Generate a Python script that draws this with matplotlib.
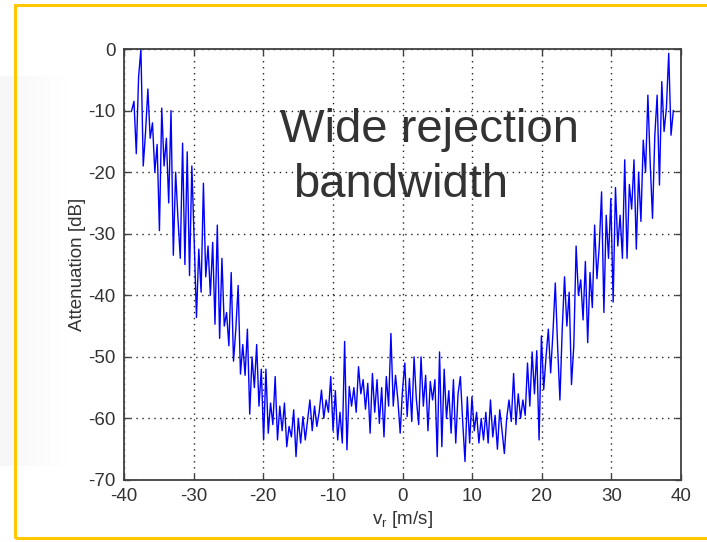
import numpy as np
import matplotlib
matplotlib.use("Agg")
import matplotlib.pyplot as plt
from matplotlib.patches import Rectangle

# radial velocity span of the measured filter response
v_start, v_end = -38.9, 38.9

# attenuation [dB] left to right (about 1/3 m/s apart)
atten = [
    -10, -8.5, -17, -4.5, 0, -19, -13.5, -6.5, -14.5, -12, -20, -15.5,
    -29.5, -9.6, -19, -14.5, -25, -10, -33.5, -20, -27.5, -34, -15.3, -35,
    -16.7, -36.8, -19, -31, -43.6, -32.5, -39.5, -21.8, -37, -32, -40, -31.4,
    -44.7, -28.6, -47, -34, -45, -42.8, -48.2, -36.3, -50.7, -45.5, -38.4, -52.8,
    -48, -53, -45.5, -59.3, -50, -55, -48, -58, -52, -63.5, -52, -62.4,
    -57.5, -61, -53.2, -63.5, -58, -62, -57.5, -64.6, -61.3, -63, -58.6, -66.2,
    -60, -64, -59.7, -63.5, -60.2, -57, -62, -58, -61.3, -59, -55.4, -60,
    -57, -59, -53.2, -62, -55.5, -63.5, -59, -64, -47.5, -65.1, -54.8, -58,
    -55, -59, -51.6, -56, -53.7, -58.5, -54.3, -62.4, -52.7, -59, -53.7, -60.8,
    -55, -63, -53.2, -58, -46.2, -58, -53, -57, -62.4, -55.4, -51, -59.7,
    -53.5, -60.5, -50, -57, -61, -50, -58, -53, -62, -54, -57, -53.7,
    -66.2, -49.2, -64.6, -52, -60, -55.5, -62.4, -53.7, -64, -56, -53.2, -60.5,
    -67, -56.5, -64, -56.5, -62, -59, -64, -60, -63.5, -59, -64, -57,
    -63, -59.5, -65, -58.6, -62, -65.7, -60, -57, -60.5, -52.7, -61, -56,
    -60, -57, -59.5, -51, -58, -49.2, -56, -49, -63.5, -46.6, -55.3, -50,
    -45.5, -52.6, -46, -38, -48.2, -57, -45.5, -37, -45, -39.5, -54.5, -48.2,
    -32, -40, -37.5, -44, -34.5, -47.7, -36.3, -42, -28.6, -37.3, -32, -23.2,
    -42.8, -27, -34, -24.3, -41.1, -22.5, -32, -27, -34, -18, -34, -22,
    -26, -18, -32.5, -20, -28, -14.8, -20, -7.5, -18.5, -27.5, -14, -7.5,
    -22.1, -5.3, -13.4, -9.6, -0.7, -14, -10,
]

x_ticks = [-40, -30, -20, -10, 0, 10, 20, 30, 40]
y_ticks = [-70, -60, -50, -40, -30, -20, -10, 0]

vr = np.linspace(v_start, v_end, len(atten))

plt.rcParams['font.family'] = ['Liberation Sans', 'DejaVu Sans']
plt.rcParams['axes.unicode_minus'] = False

fig = plt.figure(figsize=(7.07, 5.42), dpi=100)
fig.patch.set_facecolor('white')

# faint watermark on the left of the slide, fading to the right
bg = fig.add_axes([0, 0.14, 0.1, 0.72], zorder=-1)
fade = np.linspace(0.07, 0.0, 64)[None, :].repeat(8, axis=0)
bg.imshow(fade, cmap='Greys', vmin=0, vmax=1, aspect='auto')
bg.axis('off')

# yellow slide frame
fig.patches.append(Rectangle((15 / 707, 1 - 538 / 542), 1.0, (538 - 5) / 542,
                             transform=fig.transFigure, facecolor='none',
                             edgecolor='#ffc800', lw=2.2, zorder=1))

ax = fig.add_axes([124 / 707, 1 - 480 / 542, 557 / 707, 431 / 542])
ax.plot(vr, atten, color='#0000ff', lw=1.0)

ax.set_xlim(-40, 40)
ax.set_ylim(-70, 0)
ax.set_xticks(x_ticks)
ax.set_yticks(y_ticks)
ax.grid(True, color='#222222', linestyle=(0, (1, 3.3)), lw=1.0)
ax.tick_params(direction='in', length=4, width=1, top=True, right=True,
               labelsize=13.5, labelcolor='#333333', color='#404040', pad=6)
for s in ax.spines.values():
    s.set_color('#404040')
    s.set_linewidth(1.3)

ax.set_xlabel(r'v$_\mathregular{r}$ [m/s]', fontsize=13.5, color='#333333', labelpad=3)
ax.set_ylabel('Attenuation [dB]', fontsize=13.5, color='#333333', labelpad=2)

ax.text(-17.6, -15.1, 'Wide rejection', fontsize=34, color='#333333', va='baseline')
ax.text(-15.7, -24.0, 'bandwidth', fontsize=34, color='#333333', va='baseline')

fig.savefig('out.png', dpi=100)
